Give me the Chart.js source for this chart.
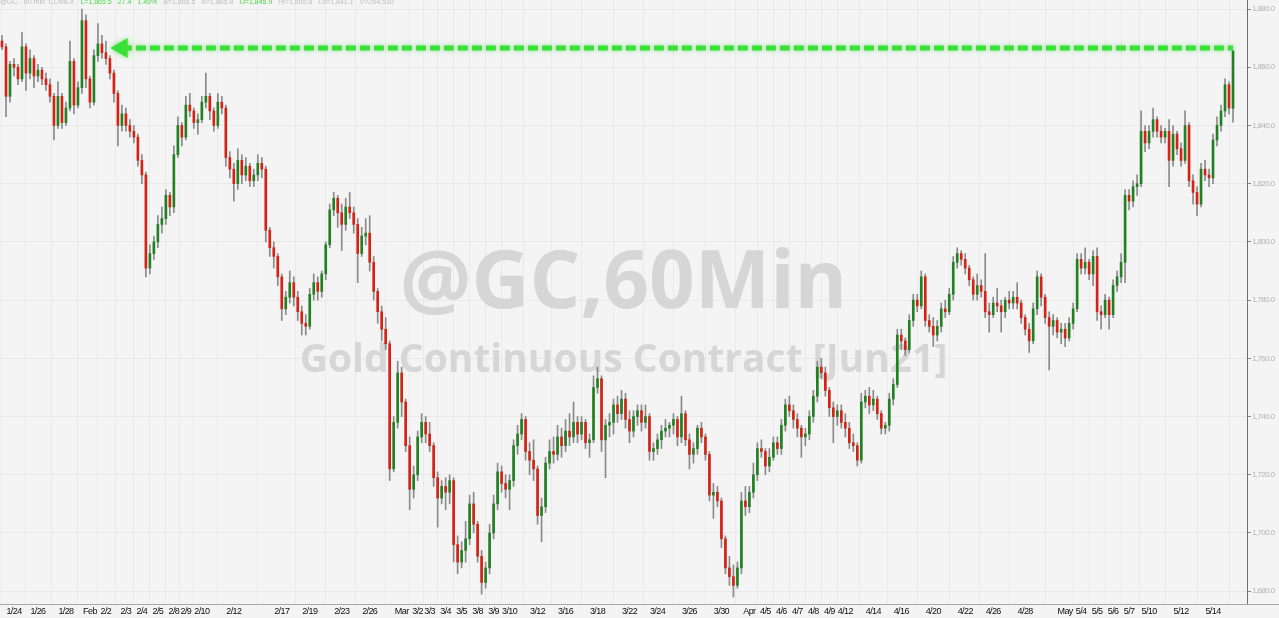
<!DOCTYPE html>
<html>
<head>
<meta charset="utf-8">
<title>@GC,60Min</title>
<script src="https://cdn.jsdelivr.net/npm/chart.js@4.4.1/dist/chart.umd.min.js"></script>
<style>
    html, body { margin: 0; padding: 0; background: #f4f4f4; }
    #wrap { width: 1279px; height: 618px; }
</style>
</head>
<body>
<div id="wrap"><canvas id="goldChart" width="1279" height="618"></canvas></div>
<script>
// Hourly candles (one candle per ~4px column)
const opens = [
    1869,1867,1850,1861,1860,1856,1867,1858,1863,1857,1859,1856,1854,1850,1840,1850,1841,1846,1862,1847,
    1853,1876,1856,1848,1864,1868,1865,1863,1858,1851,1840,1844,1840,1838,1836,1828,1823,1791,1796,1800,
    1806,1808,1816,1812,1830,1840,1836,1847,1845,1841,1842,1848,1850,1845,1840,1848,1846,1829,1825,1820,
    1828,1823,1826,1821,1823,1827,1825,1804,1798,1795,1788,1777,1781,1786,1781,1776,1772,1771,1782,1786,
    1783,1789,1799,1811,1815,1810,1806,1812,1810,1806,1796,1802,1803,1793,1783,1776,1770,1765,1722,1738,
    1755,1745,1730,1715,1720,1733,1738,1734,1730,1719,1712,1716,1714,1718,1696,1690,1694,1698,1710,1703,
    1692,1683,1688,1700,1710,1721,1717,1715,1718,1730,1734,1739,1728,1725,1722,1706,1709,1724,1728,1727,
    1733,1730,1735,1733,1738,1734,1738,1731,1732,1750,1753,1732,1737,1738,1744,1741,1746,1739,1735,1740,
    1742,1738,1740,1728,1729,1732,1735,1736,1737,1739,1733,1741,1732,1727,1729,1736,1733,1727,1713,1714,
    1711,1698,1688,1685,1682,1688,1711,1709,1714,1720,1729,1728,1723,1726,1731,1729,1737,1744,1742,1739,
    1736,1733,1734,1740,1747,1757,1755,1749,1743,1740,1742,1738,1736,1731,1730,1725,1745,1747,1744,1746,
    1741,1736,1737,1746,1751,1768,1766,1763,1773,1780,1778,1788,1773,1771,1768,1771,1777,1776,1782,1793,
    1796,1794,1791,1787,1782,1785,1783,1776,1775,1779,1778,1776,1780,1779,1781,1779,1774,1770,1766,1777,
    1788,1781,1774,1771,1773,1769,1770,1767,1772,1777,1794,1791,1793,1789,1795,1776,1775,1780,1775,1785,
    1788,1793,1816,1814,1819,1820,1838,1834,1838,1842,1838,1836,1838,1828,1837,1832,1828,1840,1821,1817,
    1813,1825,1823,1822,1835,1840,1845,1854,1845.9
];
const highs = [
    1871,1868,1862,1863,1861,1872,1868,1866,1864,1861,1860,1858,1856,1851,1855,1851,1848,1869,1863,1855,
    1880,1878,1857,1866,1875,1871,1869,1864,1859,1852,1847,1846,1842,1840,1837,1830,1824,1799,1802,1809,
    1812,1818,1817,1833,1843,1841,1850,1851,1846,1844,1850,1858,1851,1846,1851,1850,1847,1831,1827,1832,
    1830,1829,1827,1825,1830,1829,1826,1805,1800,1796,1789,1783,1790,1788,1783,1778,1775,1784,1789,1788,
    1790,1800,1813,1817,1816,1813,1815,1817,1812,1808,1805,1808,1809,1795,1784,1778,1774,1766,1740,1759,
    1757,1746,1733,1723,1735,1741,1740,1738,1731,1721,1718,1719,1720,1719,1699,1697,1704,1713,1714,1704,
    1694,1690,1703,1713,1724,1723,1720,1720,1732,1737,1741,1740,1731,1732,1723,1712,1726,1732,1733,1737,
    1736,1739,1741,1745,1740,1740,1739,1734,1754,1757,1754,1739,1741,1746,1747,1749,1748,1742,1742,1744,
    1744,1744,1741,1731,1734,1737,1739,1738,1741,1740,1747,1742,1734,1731,1737,1738,1734,1728,1717,1716,
    1712,1699,1692,1689,1690,1714,1716,1716,1724,1731,1732,1729,1729,1733,1733,1739,1746,1747,1744,1741,
    1737,1736,1742,1749,1759,1760,1757,1750,1745,1744,1744,1741,1738,1734,1731,1748,1749,1750,1749,1747,
    1742,1738,1748,1753,1770,1770,1767,1775,1782,1782,1790,1789,1775,1774,1773,1779,1780,1784,1795,1798,
    1797,1796,1792,1788,1789,1787,1796,1779,1781,1784,1780,1781,1783,1783,1786,1780,1775,1772,1779,1790,
    1789,1782,1776,1775,1774,1772,1772,1774,1779,1796,1796,1798,1794,1797,1798,1778,1782,1781,1787,1790,
    1796,1818,1818,1821,1823,1845,1840,1840,1846,1843,1840,1839,1842,1840,1838,1834,1845,1841,1823,1819,
    1827,1828,1825,1837,1843,1847,1856,1855,1865.8
];
const lows = [
    1866,1843,1848,1857,1854,1855,1852,1856,1853,1855,1854,1852,1848,1835,1839,1839,1840,1845,1844,1846,
    1851,1853,1846,1847,1862,1863,1861,1856,1848,1833,1838,1838,1836,1834,1826,1820,1788,1789,1794,1798,
    1803,1806,1809,1810,1829,1833,1835,1843,1839,1837,1841,1846,1842,1838,1839,1844,1826,1822,1814,1818,
    1820,1821,1819,1819,1821,1822,1800,1795,1791,1785,1773,1775,1779,1778,1773,1768,1768,1770,1780,1780,
    1781,1787,1798,1809,1805,1797,1804,1808,1803,1786,1795,1799,1790,1780,1772,1766,1763,1718,1721,1736,
    1740,1728,1708,1712,1718,1731,1731,1728,1716,1702,1710,1708,1710,1690,1686,1688,1690,1696,1700,1690,
    1679,1681,1686,1698,1708,1714,1712,1708,1716,1727,1732,1725,1720,1718,1703,1697,1707,1722,1724,1725,
    1726,1728,1730,1731,1731,1732,1729,1726,1731,1748,1728,1719,1733,1734,1738,1739,1736,1731,1733,1737,
    1735,1736,1725,1725,1727,1729,1733,1733,1734,1730,1731,1730,1722,1724,1727,1731,1725,1711,1705,1709,
    1695,1686,1682,1678,1681,1686,1706,1707,1712,1718,1726,1720,1721,1725,1727,1727,1735,1740,1736,1733,
    1726,1730,1732,1738,1745,1753,1747,1740,1731,1737,1736,1733,1729,1728,1723,1724,1743,1741,1742,1739,
    1734,1734,1735,1744,1750,1763,1761,1762,1771,1776,1777,1771,1769,1764,1766,1769,1774,1775,1780,1791,
    1792,1789,1785,1780,1780,1781,1774,1769,1774,1776,1769,1774,1777,1777,1777,1772,1768,1762,1765,1775,
    1778,1772,1756,1768,1767,1765,1764,1766,1770,1776,1789,1789,1787,1785,1773,1770,1774,1770,1774,1783,
    1786,1786,1811,1812,1816,1819,1831,1832,1836,1836,1834,1834,1819,1826,1830,1826,1827,1819,1813,1809,
    1812,1821,1819,1820,1833,1838,1843,1844,1841.1
];
const closes = [
    1867,1850,1861,1860,1856,1867,1858,1863,1857,1859,1856,1854,1850,1840,1850,1841,1846,1862,1847,1853,
    1876,1856,1848,1864,1868,1865,1863,1858,1851,1840,1844,1840,1838,1836,1828,1823,1791,1796,1800,1806,
    1808,1816,1812,1830,1840,1836,1847,1845,1841,1842,1848,1850,1845,1840,1848,1846,1829,1825,1820,1828,
    1823,1826,1821,1823,1827,1825,1804,1798,1795,1788,1777,1781,1786,1781,1776,1772,1771,1782,1786,1783,
    1789,1799,1811,1815,1810,1806,1812,1810,1806,1796,1802,1803,1793,1783,1776,1770,1765,1722,1738,1755,
    1745,1730,1715,1720,1733,1738,1734,1730,1719,1712,1716,1714,1718,1696,1690,1694,1698,1710,1703,1692,
    1683,1688,1700,1710,1721,1717,1715,1718,1730,1734,1739,1728,1725,1722,1706,1709,1724,1728,1727,1733,
    1730,1735,1733,1738,1734,1738,1731,1732,1750,1753,1732,1737,1738,1744,1741,1746,1739,1735,1740,1742,
    1738,1740,1728,1729,1732,1735,1736,1737,1739,1733,1741,1732,1727,1729,1736,1733,1727,1713,1714,1711,
    1698,1688,1685,1682,1688,1711,1709,1714,1720,1729,1728,1723,1726,1731,1729,1737,1744,1742,1739,1736,
    1733,1734,1740,1747,1757,1755,1749,1743,1740,1742,1738,1736,1731,1730,1725,1745,1747,1744,1746,1741,
    1736,1737,1746,1751,1768,1766,1763,1773,1780,1778,1788,1773,1771,1768,1771,1777,1776,1782,1793,1796,
    1794,1791,1787,1782,1785,1783,1776,1775,1779,1778,1776,1780,1779,1781,1779,1774,1770,1766,1777,1788,
    1781,1774,1771,1773,1769,1770,1767,1772,1777,1794,1791,1793,1789,1795,1776,1775,1780,1775,1785,1788,
    1793,1816,1814,1819,1820,1838,1834,1838,1842,1838,1836,1838,1828,1837,1832,1828,1840,1821,1817,1813,
    1825,1823,1822,1835,1840,1845,1854,1846,1865.5
];

// Date labels on the time axis and the candle slot each one sits under
const dateLabels = [
    '1/24','1/26','1/28','Feb','2/2','2/3','2/4','2/5','2/8','2/9','2/10','2/12','2/17','2/19','2/23','2/26',
    'Mar','3/2','3/3','3/4','3/5','3/8','3/9','3/10','3/12','3/16','3/18','3/22','3/24','3/26','3/30',
    'Apr','4/5','4/6','4/7','4/8','4/9','4/12','4/14','4/16','4/20','4/22','4/26','4/28',
    'May','5/4','5/5','5/6','5/7','5/10','5/12','5/14'
];
const dateSlots = [
    3,9,16,22,26,31,35,39,43,46,50,58,70,77,85,92,
    100,104,107,111,115,119,123,127,134,141,149,157,164,172,180,
    187,191,195,199,203,207,211,218,225,233,241,248,256,
    266,270,274,278,282,287,295,303
];
const slotCount = 312;

// Price axis
const priceTicks = [1680, 1700, 1720, 1740, 1760, 1780, 1800, 1820, 1840, 1860, 1880];
const priceMin = 1675.6;
const priceMax = 1883.1;

// Dashed "new high" marker
const markerLevel = 1866.6;
const markerFrom = 30;
const markerTo = 308;

// Quote header and watermark
const headerParts = [
    { text: '@GC - 60 min  COMEX', green: false },
    { text: 'L=1,865.5', green: true },
    { text: '27.4', green: true },
    { text: '1.49%', green: true },
    { text: 'B=1,865.5', green: false },
    { text: 'A=1,865.8', green: false },
    { text: 'O=1,845.9', green: true },
    { text: 'Hi=1,865.8', green: false },
    { text: 'Lo=1,841.1', green: false },
    { text: 'V=264,530', green: false }
];
const watermarkTitle = '@GC,60Min';
const watermarkSubtitle = 'Gold Continuous Contract [Jun21]';

const UP_COLOR = '#218021';
const DOWN_COLOR = '#d42214';
const WICK_COLOR = '#8a8a8a';
const MARKER_COLOR = '#38e038';

class GoldChart {
    constructor(canvasId) {
        this.canvas = document.getElementById(canvasId);
        this.build();
    }

    slotLabels() {
        const labels = new Array(slotCount).fill('');
        dateSlots.forEach((slot, i) => { labels[slot] = dateLabels[i]; });
        return labels;
    }

    markerData() {
        const data = new Array(slotCount).fill(null);
        data[markerFrom] = markerLevel;
        data[markerTo] = markerLevel;
        return data;
    }

    overlayPlugin() {
        return {
            id: 'overlay',
            beforeDraw(chart) {
                const ctx = chart.ctx;
                ctx.save();
                ctx.fillStyle = '#f4f4f4';
                ctx.fillRect(0, 0, chart.width, chart.height);
                ctx.restore();
                // the original axis font is a condensed one, tighten tick labels a little
                ctx.letterSpacing = '-0.6px';
            },
            beforeDatasetsDraw(chart) {
                const ctx = chart.ctx;
                const cx = (chart.chartArea.left + chart.chartArea.right) / 2;
                ctx.save();
                ctx.letterSpacing = '0px';
                ctx.fillStyle = '#d6d6d6';
                ctx.textAlign = 'center';
                ctx.textBaseline = 'alphabetic';
                ctx.font = 'bold 80px "Open Sans"';
                ctx.fillText(watermarkTitle, cx, 308);
                ctx.font = 'bold 39px "Open Sans"';
                ctx.fillText(watermarkSubtitle, cx, 372);
                ctx.restore();
            },
            beforeDatasetDraw(chart, args) {
                if (args.index === 0) {
                    chart.ctx.save();
                    chart.ctx.shadowColor = 'rgba(60, 220, 60, 0.6)';
                    chart.ctx.shadowBlur = 5;
                }
            },
            afterDatasetDraw(chart, args) {
                if (args.index === 0) chart.ctx.restore();
            },
            afterDraw(chart) {
                const ctx = chart.ctx;
                ctx.save();
                ctx.letterSpacing = '0px';
                // quote line across the top edge, parts laid out one after another
                ctx.font = '7px "Liberation Sans"';
                ctx.textBaseline = 'middle';
                let x = 0;
                headerParts.forEach(part => {
                    ctx.fillStyle = part.green ? '#46d946' : '#bdbdbd';
                    ctx.fillText(part.text, x, 2);
                    x += ctx.measureText(part.text).width + 6;
                });
                ctx.strokeStyle = '#a8a8a8';
                ctx.lineWidth = 1;
                ctx.beginPath();
                ctx.moveTo(0, chart.chartArea.bottom + 0.5);
                ctx.lineTo(chart.width, chart.chartArea.bottom + 0.5);
                ctx.stroke();
                ctx.restore();
                ctx.letterSpacing = '0px';
            }
        };
    }

    build() {
        const bodies = opens.map((o, i) => [o, closes[i]]);
        const wicks = lows.map((l, i) => [l, highs[i]]);
        const bodyColors = opens.map((o, i) => (closes[i] >= o ? UP_COLOR : DOWN_COLOR));

        this.chart = new Chart(this.canvas, {
            type: 'bar',
            data: {
                labels: this.slotLabels(),
                datasets: [
                    {
                        type: 'line',
                        data: this.markerData(),
                        spanGaps: true,
                        borderColor: MARKER_COLOR,
                        borderWidth: 5,
                        borderDash: [10, 4],
                        borderCapStyle: 'butt',
                        pointStyle: 'triangle',
                        rotation: -90,
                        pointRadius: ctx => (ctx.dataIndex === markerFrom ? 6.5 : 0),
                        pointBackgroundColor: MARKER_COLOR,
                        pointBorderColor: MARKER_COLOR,
                        order: 0
                    },
                    {
                        data: bodies,
                        backgroundColor: bodyColors,
                        barThickness: 2,
                        minBarLength: 1,
                        grouped: false,
                        order: 1
                    },
                    {
                        data: wicks,
                        backgroundColor: WICK_COLOR,
                        barThickness: 1,
                        grouped: false,
                        order: 2
                    }
                ]
            },
            options: {
                responsive: false,
                animation: false,
                devicePixelRatio: 1,
                layout: { padding: 0 },
                plugins: {
                    legend: { display: false },
                    tooltip: { enabled: false }
                },
                scales: {
                    x: {
                        offset: true,
                        afterBuildTicks: scale => {
                            scale.ticks = dateSlots.map(slot => ({ value: slot }));
                        },
                        afterFit: scale => {
                            scale.height = 14;
                            scale.paddingLeft = 0;
                            scale.paddingRight = 0;
                        },
                        ticks: {
                            autoSkip: false,
                            maxRotation: 0,
                            padding: 2,
                            color: '#0e0e0e',
                            font: { size: 9, family: '"Liberation Sans", Arial' }
                        },
                        grid: { color: '#eaeaea', drawTicks: false },
                        border: { color: '#a8a8a8' }
                    },
                    y: {
                        position: 'right',
                        min: priceMin,
                        max: priceMax,
                        afterBuildTicks: scale => {
                            scale.ticks = priceTicks.map(v => ({ value: v }));
                        },
                        afterFit: scale => {
                            scale.width = 32;
                            scale.paddingTop = 0;
                            scale.paddingBottom = 0;
                        },
                        ticks: {
                            padding: 1,
                            color: '#b2b2b2',
                            font: { size: 8, family: '"Liberation Sans", Arial' },
                            callback: v => v.toLocaleString('en-US', { minimumFractionDigits: 1, maximumFractionDigits: 1 })
                        },
                        grid: { color: '#e9e9e9', tickColor: '#8a8a8a', tickLength: 4 },
                        border: { color: '#6e6e6e' }
                    }
                }
            },
            plugins: [this.overlayPlugin()]
        });
    }
}

const goldChart = new GoldChart('goldChart');
</script>
</body>
</html>
